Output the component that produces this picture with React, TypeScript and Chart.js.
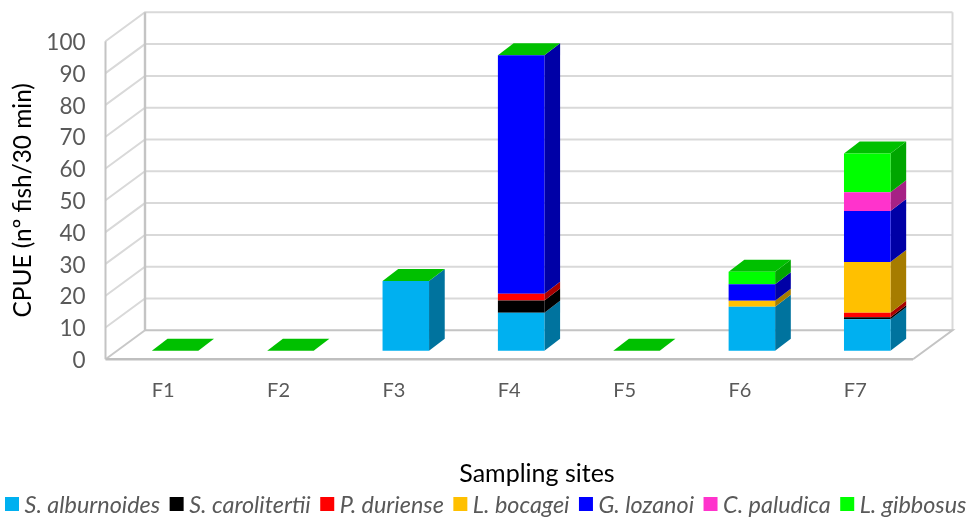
import React, { useEffect, useRef } from "react";
import { Chart, registerables } from "chart.js";

Chart.register(...registerables);

const sites = ["F1", "F2", "F3", "F4", "F5", "F6", "F7"];
const alburnoides = [0, 0, 21.9, 11.9, 0, 13.8, 9.9];
const carolitertii = [0, 0, 0, 3.9, 0, 0, 0.6];
const duriense = [0, 0, 0, 2.1, 0, 0, 1.4];
const bocagei = [0, 0, 0, 0, 0, 1.9, 16];
const lozanoi = [0, 0, 0, 75, 0, 5.2, 16];
const paludica = [0, 0, 0, 0, 0, 0, 5.9];
const gibbosus = [0, 0, 0, 0, 0, 3.9, 12.2];

const FONT = "Lato, 'Open Sans', sans-serif";
const WALL = { dx: 39.5, dy: -29 };
const BAR_SHIFT = { dx: 11.9, dy: -8.6 };
const BAR_DEPTH = { dx: 15.7, dy: -12 };

const series = [
  { label: "S. alburnoides", data: alburnoides, color: "#00B0F0", side: "#00739E" },
  { label: "S. carolitertii", data: carolitertii, color: "#000000", side: "#000000" },
  { label: "P. duriense", data: duriense, color: "#FF0000", side: "#A80000" },
  { label: "L. bocagei", data: bocagei, color: "#FFC000", side: "#A67C00" },
  { label: "G. lozanoi", data: lozanoi, color: "#0000FF", side: "#0000A6" },
  { label: "C. paludica", data: paludica, color: "#FF33CC", side: "#A62185" },
  { label: "L. gibbosus", data: gibbosus, color: "#00FF00", side: "#00A600" },
];
const TOP_COLOR = "#00C000";

const poly = (ctx: CanvasRenderingContext2D, pts: number[][], fill: string) => {
  ctx.beginPath();
  pts.forEach((p, i) => (i ? ctx.lineTo(p[0], p[1]) : ctx.moveTo(p[0], p[1])));
  ctx.closePath();
  ctx.fillStyle = fill;
  ctx.fill();
};

const line = (ctx: CanvasRenderingContext2D, pts: number[][], color: string, w: number) => {
  ctx.beginPath();
  pts.forEach((p, i) => (i ? ctx.lineTo(p[0], p[1]) : ctx.moveTo(p[0], p[1])));
  ctx.strokeStyle = color;
  ctx.lineWidth = w;
  ctx.stroke();
};

const box3d = {
  id: "box3d",
  beforeDatasetsDraw(chart: any) {
    const { ctx, chartArea: a, scales } = chart;
    const y = scales.y;
    const L = a.left;
    const R = a.right;
    const { dx, dy } = WALL;
    ctx.save();
    y.ticks.forEach((t: any) => {
      if (t.value === 0) return;
      const py = y.getPixelForValue(t.value);
      line(ctx, [[L, py], [L + dx, py + dy], [R + dx, py + dy]], "#D9D9D9", 2);
    });
    const top = y.getPixelForValue(100);
    const bot = y.getPixelForValue(0);
    line(ctx, [[R + dx, top + dy], [R + dx, bot + dy]], "#D9D9D9", 2);
    line(ctx, [[L + dx, bot + dy], [R + dx, bot + dy], [R, bot]], "#C4C4C4", 2);
    line(ctx, [[L, bot], [L + dx, bot + dy]], "#C8C8C8", 2);
    line(ctx, [[L, bot], [R, bot]], "#BFBFBF", 2.4);
    line(ctx, [[L, top], [L, bot]], "#C4C4C4", 2);
    line(ctx, [[L + dx, top + dy], [L + dx, bot + dy]], "#C4C4C4", 2.4);
    ctx.restore();

    ctx.save();
    ctx.translate(BAR_SHIFT.dx, BAR_SHIFT.dy);
    const d = BAR_DEPTH;
    series.forEach((s, di) => {
      chart.getDatasetMeta(di).data.forEach((el: any) => {
        const { x, y: ty, base, width } = el.getProps(["x", "y", "base", "width"], false);
        const xr = x + width / 2;
        if (Math.abs(base - ty) > 0.01) {
          poly(ctx, [[xr, ty], [xr + d.dx, ty + d.dy], [xr + d.dx, base + d.dy], [xr, base]], s.side);
        }
      });
    });
    chart.getDatasetMeta(series.length - 1).data.forEach((el: any) => {
      const { x, y: ty, width } = el.getProps(["x", "y", "width"], false);
      const xl = x - width / 2;
      const xr = x + width / 2;
      poly(ctx, [[xl, ty], [xr, ty], [xr + d.dx, ty + d.dy], [xl + d.dx, ty + d.dy]], TOP_COLOR);
    });
  },
  afterDatasetsDraw(chart: any) {
    const { ctx } = chart;
    ctx.restore();
    ctx.save();
    ctx.font = `25px ${FONT}`;
    ctx.fillStyle = "#000000";
    ctx.textAlign = "center";
    ctx.textBaseline = "middle";
    ctx.fillText("Sampling sites", 537, 474);

    ctx.font = `italic 23.4px ${FONT}`;
    ctx.textAlign = "left";
    let x = 5;
    series.forEach((s) => {
      ctx.fillStyle = s.color;
      ctx.fillRect(x, 497, 14, 14);
      ctx.fillStyle = "#595959";
      ctx.fillText(s.label, x + 19.5, 505);
      x += 19.5 + ctx.measureText(s.label).width + 9.5;
    });
    ctx.restore();
  },
};

export default function App() {
  const ref = useRef<HTMLCanvasElement>(null);
  useEffect(() => {
    const chart = new Chart(ref.current!, {
      type: "bar",
      data: {
        labels: sites,
        datasets: series.map((s) => ({
          label: s.label,
          data: s.data,
          backgroundColor: s.color,
          borderWidth: 0,
          barPercentage: 0.403,
          categoryPercentage: 1,
          clip: false as any,
        })),
      },
      plugins: [box3d],
      options: {
        responsive: false,
        animation: false,
        layout: { padding: { top: 41.3, right: 53, left: 0, bottom: 0 } },
        plugins: {
          tooltip: { enabled: false },
          legend: { display: false },
        },
        scales: {
          x: {
            stacked: true,
            grid: { display: false },
            border: { display: false },
            ticks: { color: "#595959", font: { family: FONT, size: 20 }, padding: 11, maxRotation: 0 },
            afterFit: (s: any) => {
              s.height = 157.7;
            },
          },
          y: {
            stacked: true,
            min: 0,
            max: 100,
            grid: { display: false },
            border: { display: false },
            ticks: { stepSize: 10, color: "#595959", font: { family: FONT, size: 22.5 }, padding: 12, labelOffset: 1.5 },
            title: {
              display: true,
              text: "CPUE (nº fish/30 min)",
              color: "#000000",
              font: { family: FONT, size: 24.4 },
              padding: { top: 9, bottom: 0 },
            },
            afterFit: (s: any) => {
              s.width = 105.5;
            },
          },
        },
      },
    } as any);
    return () => chart.destroy();
  }, []);
  return (
    <div style={{ position: "fixed", left: 0, top: 0, width: 966, height: 517, background: "#fff" }}>
      <canvas ref={ref} width={966} height={517} style={{ display: "block" }} />
    </div>
  );
}
